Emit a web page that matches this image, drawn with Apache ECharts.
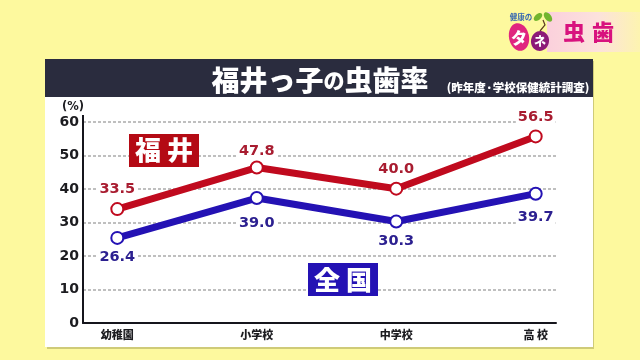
<!DOCTYPE html>
<html><head><meta charset="utf-8">
<style>html,body{margin:0;padding:0;background:#fdf99e}#c{width:640px;height:360px}</style>
<script src="https://cdn.jsdelivr.net/npm/echarts@6/dist/echarts.min.js"></script>
</head><body><div id="c"></div>
<script>
const categories = ['幼稚園','小学校','中学校','高 校'];
const fukuiValues = [34.0,46.4,40.1,55.7];
const zenkokuValues = [25.4,37.3,30.3,38.6];
const fukuiLabels = ['33.5','47.8','40.0','56.5'];
const zenkokuLabels = ['26.4','39.0','30.3','39.7'];
const fukuiLabelNudge = [0,3,0,0];
const zenkokuLabelNudge = [-2,4,-2,2];
const jp = '"Noto Sans CJK JP"';
const lat = '"DejaVu Sans"';
const RED = '#c00a1e', BLUE = '#2412b4';
const chart = echarts.init(document.getElementById('c'), null, {renderer:'canvas'});
function txt(x,y,t,size,fill,extra){return {type:'text',x,y,z:20,style:Object.assign({text:t,fill,font:`900 ${size}px ${jp}`,align:'center',verticalAlign:'middle'},extra||{})};}
function box(x,y,w,h,fill,z){return {type:'rect',z:z||1,shape:{x,y,width:w,height:h},style:{fill}};}
function berry(cx,cy,rx,ry,rot,c){return {type:'ellipse',z:5,x:cx,y:cy,rotation:rot,shape:{cx:0,cy:0,rx,ry},style:{fill:c}};}
function items(values,nudge){return values.map((value,i)=>({value,label:{offset:[0,nudge[i]]}}));}
const valueLabel = {show:true,distance:5,fontFamily:lat,fontWeight:'bold',fontSize:14.5,backgroundColor:'#fff',padding:[0,2]};
chart.setOption({
  animation:false,
  backgroundColor:'#fdf99e',
  grid:[
    {left:83,top:122,width:473,height:201},
    {left:117.3,top:122,width:418.4,height:201}
  ],
  xAxis:[
    {type:'value',gridIndex:0,min:0,max:1,axisLine:{show:true,onZero:false,lineStyle:{color:'#15151c',width:2}},axisTick:{show:false},axisLabel:{show:false},splitLine:{show:false}},
    {type:'category',gridIndex:1,data:categories,boundaryGap:false,axisLine:{show:false},axisTick:{show:false},
     axisLabel:{margin:6,color:'#1c1c20',fontFamily:jp,fontWeight:900,fontSize:11}}
  ],
  yAxis:[
    {type:'value',gridIndex:0,min:0,max:60,interval:10,axisLine:{show:true,lineStyle:{color:'#15151c',width:2}},axisTick:{show:false},
     axisLabel:{margin:4,color:'#1c1c20',fontFamily:lat,fontWeight:'bold',fontSize:14},
     splitLine:{show:true,lineStyle:{color:'#aaaaaa',type:[3,2],width:1.5}}},
    {type:'value',gridIndex:1,min:0,max:60,interval:10,show:false}
  ],
  series:[
    {type:'line',xAxisIndex:1,yAxisIndex:1,z:3,data:items(fukuiValues,fukuiLabelNudge),symbol:'circle',symbolSize:12,showAllSymbol:true,
     lineStyle:{color:RED,width:7},itemStyle:{color:'#fff',borderColor:RED,borderWidth:2},
     label:Object.assign({},valueLabel,{position:'top',color:'#a81c30',formatter:p=>fukuiLabels[p.dataIndex]})},
    {type:'line',xAxisIndex:1,yAxisIndex:1,z:3,data:items(zenkokuValues,zenkokuLabelNudge),symbol:'circle',symbolSize:12,showAllSymbol:true,
     lineStyle:{color:BLUE,width:7},itemStyle:{color:'#fff',borderColor:BLUE,borderWidth:2},
     label:Object.assign({},valueLabel,{position:'bottom',distance:7,color:'#2c2090',formatter:p=>zenkokuLabels[p.dataIndex]})}
  ],
  graphic:[
    box(47,61,547,288,'#cfcb78',-1),
    box(45,59,548,288,'#ffffff',-1),
    box(45,59,548,38,'#2a2c3e',1),
    {type:'text',x:320,y:80,z:20,style:{text:'{a|福井っ子}{b|の}{a|虫歯率}',fill:'#fff',align:'center',verticalAlign:'middle',
      rich:{a:{fontFamily:jp,fontWeight:900,fontSize:28,fill:'#fff',color:'#fff'},b:{fontFamily:jp,fontWeight:900,fontSize:21,fill:'#fff',color:'#fff'}}}},
    txt(518,88,'(昨年度·学校保健統計調査)',11.5,'#fff'),
    {type:'text',x:62,y:107,z:20,style:{text:'(%)',fill:'#1c1c20',font:`bold 11.5px ${lat}`,align:'left',verticalAlign:'middle'}},
    box(82,115,2,8,'#15151c',2),
    box(129,134,70,33,'#b40a14',6),
    txt(164,150,'福 井',26,'#fff'),
    box(308,263,70,33,'#2412b4',6),
    txt(343,280,'全 国',26,'#fff'),
    {type:'rect',z:2,shape:{x:547,y:12,width:93,height:40},style:{fill:new echarts.graphic.LinearGradient(0,0,1,0,[{offset:0,color:'#fbd0dc'},{offset:.55,color:'#fce2dc'},{offset:1,color:'#fdf4b0'}])}},
    txt(574,32,'虫',22,'#d8127e'),
    txt(603,32,'歯',22,'#d8127e'),
    txt(521,17,'健康の',7.5,'#3a6ab0',{font:`700 7.5px ${jp}`}),
    berry(519,37,10,14,0.2,'#e0257f'),
    berry(540,41,9,10,-0.2,'#8c1a78'),
    txt(519,38,'タ',16,'#fff'),
    txt(540,41,'ネ',12,'#fff'),
    {type:'polyline',z:4,shape:{points:[[540,31],[545,25],[543,20]]},style:{stroke:'#5b3a20',lineWidth:1.2,fill:null}},
    berry(538,17,5,3,0.7,'#72b52e'),
    berry(548,17,5.5,3.2,-0.9,'#72b52e')
  ]
});
</script></body></html>
